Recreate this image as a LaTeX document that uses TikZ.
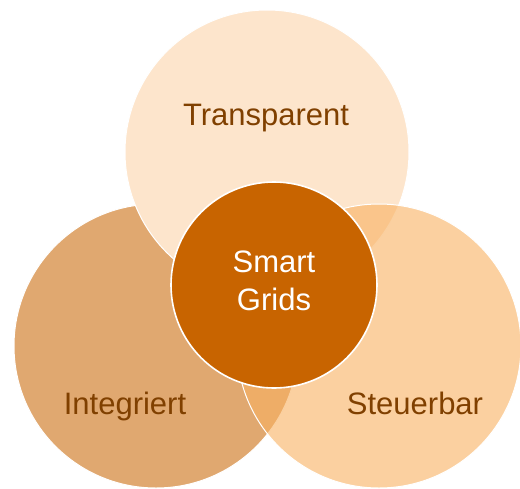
\documentclass[tikz,border=0pt]{standalone}
\usepackage{fontspec}
\setmainfont{Liberation Sans}
\definecolor{topfill}{RGB}{253,229,204}
\definecolor{leftfill}{RGB}{224,168,112}
\definecolor{rightfill}{RGB}{248,177,97}
\definecolor{corefill}{RGB}{200,100,0}
\definecolor{labeltext}{RGB}{128,64,0}
\begin{document}
\begin{tikzpicture}[x=0.5pt,y=-0.5pt,
  ring/.style={circle,draw=white,line width=0.5pt,inner sep=0,minimum size=142pt},
  ringtext/.style={anchor=base,text=labeltext,font=\fontsize{15.5}{18}\selectfont}]
\useasboundingbox (0,0) rectangle (520,488);

\node[ring,fill=leftfill] (integriert) at (156,346) {};
\node[ring,fill=topfill] (transparent) at (267,152) {};
\node[ring,fill=rightfill,fill opacity=0.6] (steuerbar) at (379,346) {};
\node[circle,draw=white,line width=0.8pt,fill=corefill,inner sep=0,minimum size=103pt,
  text=white,align=center,font=\fontsize{15.5}{19}\selectfont] (core) at (274,285) {Smart\\Grids\vspace{4pt}};

\node[ringtext] (ttransparent) at (266,125) {Transparent};
\node[ringtext] (tintegriert) at (125,414) {Integriert};
\node[ringtext] (tsteuerbar) at (415,414) {Steuerbar};
\end{tikzpicture}
\end{document}
